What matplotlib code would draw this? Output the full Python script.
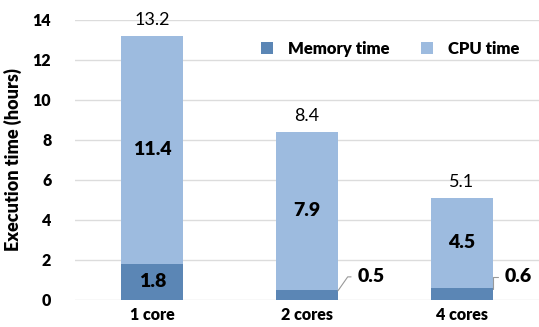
import matplotlib.pyplot as plt
import numpy as np

plt.rcParams['font.family'] = ['Lato', 'DejaVu Sans']

# execution time per configuration (hours)
categories = ["1 core", "2 cores", "4 cores"]
memory_time = [1.8, 0.5, 0.6]
cpu_time = [11.4, 7.9, 4.5]
totals = [13.2, 8.4, 5.1]

mem_color = "#5b86b5"
cpu_color = "#9dbbdf"

fig = plt.figure(figsize=(5.39, 3.27), dpi=100)
ax = fig.add_axes([0.139, 0.083, 0.861, 0.856])

x = np.arange(len(categories))
w = 0.4
ax.bar(x, memory_time, w, color=mem_color, label="Memory time", zorder=2)
ax.bar(x, cpu_time, w, bottom=memory_time, color=cpu_color, label="CPU time", zorder=2)

ax.set_xlim(-0.5, 2.5)
ax.set_ylim(0, 14)
ax.set_yticks(range(0, 15, 2))
ax.grid(axis="y", color="#dcdcdc", linewidth=1, zorder=0)
for s in ax.spines.values():
    s.set_visible(False)
ax.tick_params(length=0, labelsize=11.5, pad=5)
ax.set_xticks(x)
ax.set_xticklabels(categories, fontweight="heavy")
for t in ax.get_yticklabels():
    t.set_fontweight("heavy")
ax.tick_params(axis="y", pad=17)
ax.set_ylabel("Execution time (hours)", fontsize=13, fontweight="heavy", labelpad=8)

# CPU segment labels and totals
for i in range(len(categories)):
    ax.text(x[i], memory_time[i] + cpu_time[i] / 2, f"{cpu_time[i]}", ha="center",
            va="center", fontsize=14, fontweight="heavy", zorder=3)
    ax.text(x[i], totals[i] + 0.8, f"{totals[i]}", ha="center", va="center", fontsize=13)

# memory labels: inside for the tall segment, callouts for the thin ones
ax.text(x[0], memory_time[0] / 2, f"{memory_time[0]}", ha="center", va="center",
        fontsize=14, fontweight="heavy", zorder=3)
ax.annotate(f"{memory_time[1]}", xy=(x[1] + w / 2, memory_time[1] / 2 + 0.2),
            xytext=(x[1] + w / 2 + 0.13, 1.15), ha="left", va="center",
            fontsize=14, fontweight="heavy",
            arrowprops=dict(arrowstyle="-", color="#999999", lw=0.8,
                            connectionstyle="angle,angleA=0,angleB=55,rad=0",
                            shrinkA=3, shrinkB=0))
ax.annotate(f"{memory_time[2]}", xy=(x[2] + w / 2, memory_time[2] / 2 + 0.25),
            xytext=(x[2] + w / 2 + 0.08, 1.15), ha="left", va="center",
            fontsize=14, fontweight="heavy",
            arrowprops=dict(arrowstyle="-", color="#999999", lw=0.8,
                            connectionstyle="angle,angleA=0,angleB=90,rad=0",
                            shrinkA=3, shrinkB=0))

ax.legend(loc="upper right", bbox_to_anchor=(0.99, 0.98), ncol=2, frameon=False,
          prop={"weight": "heavy", "size": 12}, handlelength=0.7, handleheight=0.7,
          columnspacing=1.9, handletextpad=0.9)

fig.savefig("out.png", dpi=100)
